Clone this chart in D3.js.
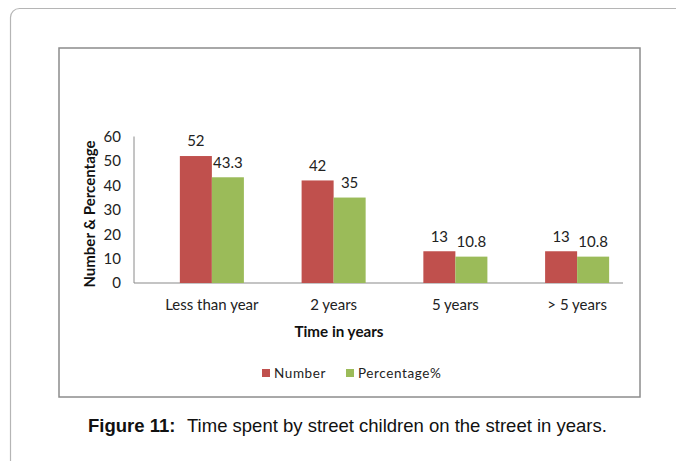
<!DOCTYPE html>
<html><head><meta charset="utf-8">
<script src="https://cdn.jsdelivr.net/npm/d3@7"></script>
<style>body{margin:0;background:#fff}</style>
</head><body>
<script>
const categories = ["Less than year", "2 years", "5 years", "> 5 years"];
const numberValues = [52, 42, 13, 13];
const percentValues = [43.3, 35, 10.8, 10.8];
const numberLabels = ["52", "42", "13", "13"];
const percentLabels = ["43.3", "35", "10.8", "10.8"];
const yTicks = [0, 10, 20, 30, 40, 50, 60];
const seriesNames = ["Number", "Percentage%"];
const colors = ["#C0504D", "#9BBB59"];

const W = 676, H = 461;
const svg = d3.select("body").append("svg").attr("width", W).attr("height", H);
const font = "Lato, 'Open Sans', sans-serif";

// outer rounded frame
svg.append("rect").attr("x", 10.5).attr("y", 8.5).attr("width", 720).attr("height", 500)
  .attr("rx", 9).attr("fill", "none").attr("stroke", "#b5b5b5").attr("stroke-width", 1.2);
// chart box
svg.append("rect").attr("x", 59).attr("y", 48).attr("width", 581).attr("height", 349)
  .attr("fill", "#fff").attr("stroke", "#8c8c8c").attr("stroke-width", 1.5);

const x0 = d3.scaleBand().domain(categories).range([151, 638]).paddingInner(0.474).paddingOuter(0.237);
const x1 = d3.scaleBand().domain([0, 1]).range([0, x0.bandwidth()]);
const y = d3.scaleLinear().domain([0, 60]).range([283, 136.5]);

// axes lines
svg.append("line").attr("x1", 134).attr("x2", 134).attr("y1", y(60)).attr("y2", y(0))
  .attr("stroke", "#8a8a8a").attr("stroke-width", 1);
svg.append("line").attr("x1", 134).attr("x2", 623).attr("y1", y(0)).attr("y2", y(0))
  .attr("stroke", "#8a8a8a").attr("stroke-width", 1.2);

// y tick labels
svg.selectAll(".yt").data(yTicks).enter().append("text")
  .attr("x", 121).attr("y", d => y(d)).attr("dy", "0.36em").attr("text-anchor", "end")
  .attr("font-family", font).attr("font-size", 15).attr("fill", "#222").text(d => d);

const series = [numberValues, percentValues];
const labels = [numberLabels, percentLabels];
series.forEach((vals, si) => {
  svg.selectAll(".b" + si).data(categories).enter().append("rect")
    .attr("x", (c) => x0(c) + x1(si)).attr("width", x1.bandwidth())
    .attr("y", (c, i) => y(vals[i])).attr("height", (c, i) => y(0) - y(vals[i]))
    .attr("fill", colors[si]);
  svg.selectAll(".l" + si).data(categories).enter().append("text")
    .attr("x", (c) => x0(c) + x1(si) + x1.bandwidth() / 2)
    .attr("y", (c, i) => y(vals[i]) - 15).attr("dy", "0.36em").attr("text-anchor", "middle")
    .attr("font-family", font).attr("font-size", 15).attr("fill", "#222")
    .text((c, i) => labels[si][i]);
});

// category labels
svg.selectAll(".cl").data(categories).enter().append("text")
  .attr("x", c => x0(c) + x0.bandwidth() / 2).attr("y", 305).attr("dy", "0.36em")
  .attr("text-anchor", "middle").attr("font-family", font).attr("font-size", 15).attr("fill", "#222")
  .text(c => c);

// axis titles
svg.append("text").attr("x", 339).attr("y", 332).attr("dy", "0.36em").attr("text-anchor", "middle")
  .attr("font-family", font).attr("font-size", 15.2).attr("font-weight", "bold").attr("fill", "#111")
  .text("Time in years");
svg.append("text").attr("transform", "translate(90,214) rotate(-90)").attr("dy", "0.36em")
  .attr("text-anchor", "middle").attr("font-family", font).attr("font-size", 15)
  .attr("font-weight", "bold").attr("fill", "#111").text("Number & Percentage");

// legend
const legX = [262, 346];
seriesNames.forEach((n, i) => {
  svg.append("rect").attr("x", legX[i]).attr("y", 369).attr("width", 8).attr("height", 8).attr("fill", colors[i]);
  svg.append("text").attr("x", legX[i] + 12).attr("y", 373).attr("dy", "0.36em")
    .attr("font-family", font).attr("font-size", 13.5).attr("letter-spacing", "0.6px").attr("fill", "#222").text(n);
});

// caption
const cap = svg.append("text").attr("x", 88).attr("y", 432)
  .attr("font-family", "'Liberation Sans', Arial, sans-serif").attr("font-size", 18.5).attr("fill", "#111");
cap.append("tspan").attr("font-weight", "bold").text("Figure 11:");
cap.append("tspan").attr("x", 187).text("Time spent by street children on the street in years.");
</script>
</body></html>
